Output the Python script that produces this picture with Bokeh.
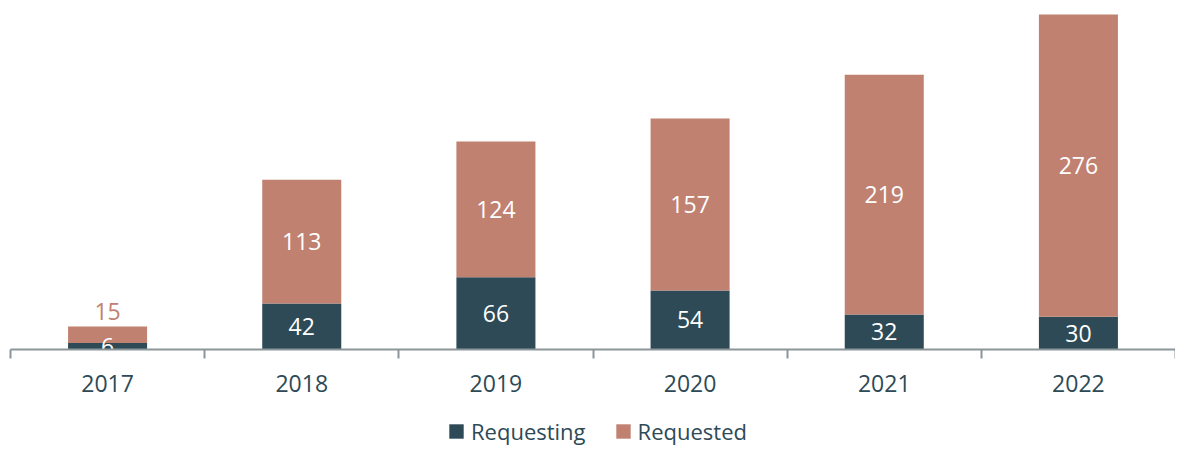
import numpy as np
from bokeh.plotting import figure
from bokeh.layouts import column
from bokeh.models import (Range1d, LinearAxis, FixedTicker, ColumnDataSource,
                          Legend, LegendItem)
from bokeh.core.properties import value
from bokeh.embed import file_html
from bokeh.resources import INLINE

years = ["2017", "2018", "2019", "2020", "2021", "2022"]
series = ["Requesting", "Requested"]
requesting = [6, 42, 66, 54, 32, 30]
requested = [15, 113, 124, 157, 219, 276]

DARK = "#2D4A56"
SALMON = "#C08171"
AXIS = "#8C959A"
FONT = "Open Sans"
COLORS = [DARK, SALMON]

x = np.arange(len(years)) + 0.5
req_a = np.array(requesting, dtype=float)
req_b = np.array(requested, dtype=float)
total = req_a + req_b

src = ColumnDataSource(dict(x=x, requesting=req_a, requested=req_b))

H_MAIN = 410
TOP = 8
BOTTOM = 61
FH = H_MAIN - TOP - BOTTOM
YMAX = 311.5
p = figure(width=1175, height=H_MAIN, output_backend="svg", toolbar_location=None,
           x_range=Range1d(0, len(years)), y_range=Range1d(0, YMAX),
           x_axis_location=None, y_axis_location=None,
           min_border_left=10, min_border_right=0, min_border_top=TOP,
           min_border_bottom=BOTTOM)
p.grid.visible = False
p.outline_line_color = None
p.background_fill_color = "white"

rs = p.vbar_stack(["requesting", "requested"], x="x", width=0.407, source=src,
                  color=COLORS, line_color=None)

# value labels
lx, ly, lt, lc = [], [], [], []
px_per_unit = FH / YMAX
for i in range(len(years)):
    lx.append(x[i]); ly.append(req_a[i] / 2); lt.append(str(requesting[i])); lc.append("white")
    if req_b[i] * px_per_unit < 30:
        lx.append(x[i]); ly.append(total[i] + 15 / px_per_unit); lt.append(str(requested[i])); lc.append(SALMON)
    else:
        lx.append(x[i]); ly.append(req_a[i] + req_b[i] / 2); lt.append(str(requested[i])); lc.append("white")
lsrc = ColumnDataSource(dict(x=lx, y=ly, text=lt, color=lc))
p.text(x="x", y="y", text="text", source=lsrc, text_color="color",
       text_align="center", text_baseline="middle",
       text_font=value(FONT), text_font_size="23px")

# axis with ticks at category boundaries
ax1 = LinearAxis(ticker=FixedTicker(ticks=list(range(len(years) + 1))))
ax1.major_label_overrides = {i: "" for i in range(len(years) + 1)}
ax1.major_label_text_font_size = "1px"
ax1.major_label_standoff = 0
ax1.axis_line_color = AXIS
ax1.axis_line_width = 2
ax1.major_tick_line_color = AXIS
ax1.major_tick_line_width = 2
ax1.major_tick_out = 9
ax1.major_tick_in = 0
ax1.minor_tick_line_color = None
p.add_layout(ax1, "below")

# axis with year labels at category centres
ax2 = LinearAxis(ticker=FixedTicker(ticks=list(x)))
ax2.major_label_overrides = {float(v): years[i] for i, v in enumerate(x)}
ax2.axis_line_color = None
ax2.major_tick_line_color = None
ax2.minor_tick_line_color = None
ax2.major_tick_out = 0
ax2.major_tick_in = 0
ax2.major_label_standoff = 16
ax2.major_label_text_font = FONT
ax2.major_label_text_font_size = "23px"
ax2.major_label_text_color = DARK
p.add_layout(ax2, "below")

# legend strip
p2 = figure(width=1175, height=36, output_backend="svg", toolbar_location=None,
            x_range=Range1d(0, 1), y_range=Range1d(0, 1),
            x_axis_location=None, y_axis_location=None,
            min_border_left=0, min_border_right=0, min_border_top=0,
            min_border_bottom=0)
p2.grid.visible = False
p2.outline_line_color = None
items = []
for name, col in zip(series, COLORS):
    r = p2.vbar(x=[-10], top=[0], width=0.1, fill_color=col, line_color=None)
    items.append(LegendItem(label=name, renderers=[r]))

legend = Legend(items=items, orientation="horizontal", location=(437, 0))
legend.label_text_font = FONT
legend.label_text_font_size = "22px"
legend.label_text_color = DARK
legend.glyph_width = 18
legend.glyph_height = 18
legend.label_standoff = 6
legend.spacing = 28
legend.padding = 0
legend.margin = 0
legend.border_line_color = None
legend.background_fill_alpha = 0
p2.add_layout(legend, "center")

layout = column(p, p2, spacing=0)
open("out.html", "w").write(file_html(layout, INLINE))
